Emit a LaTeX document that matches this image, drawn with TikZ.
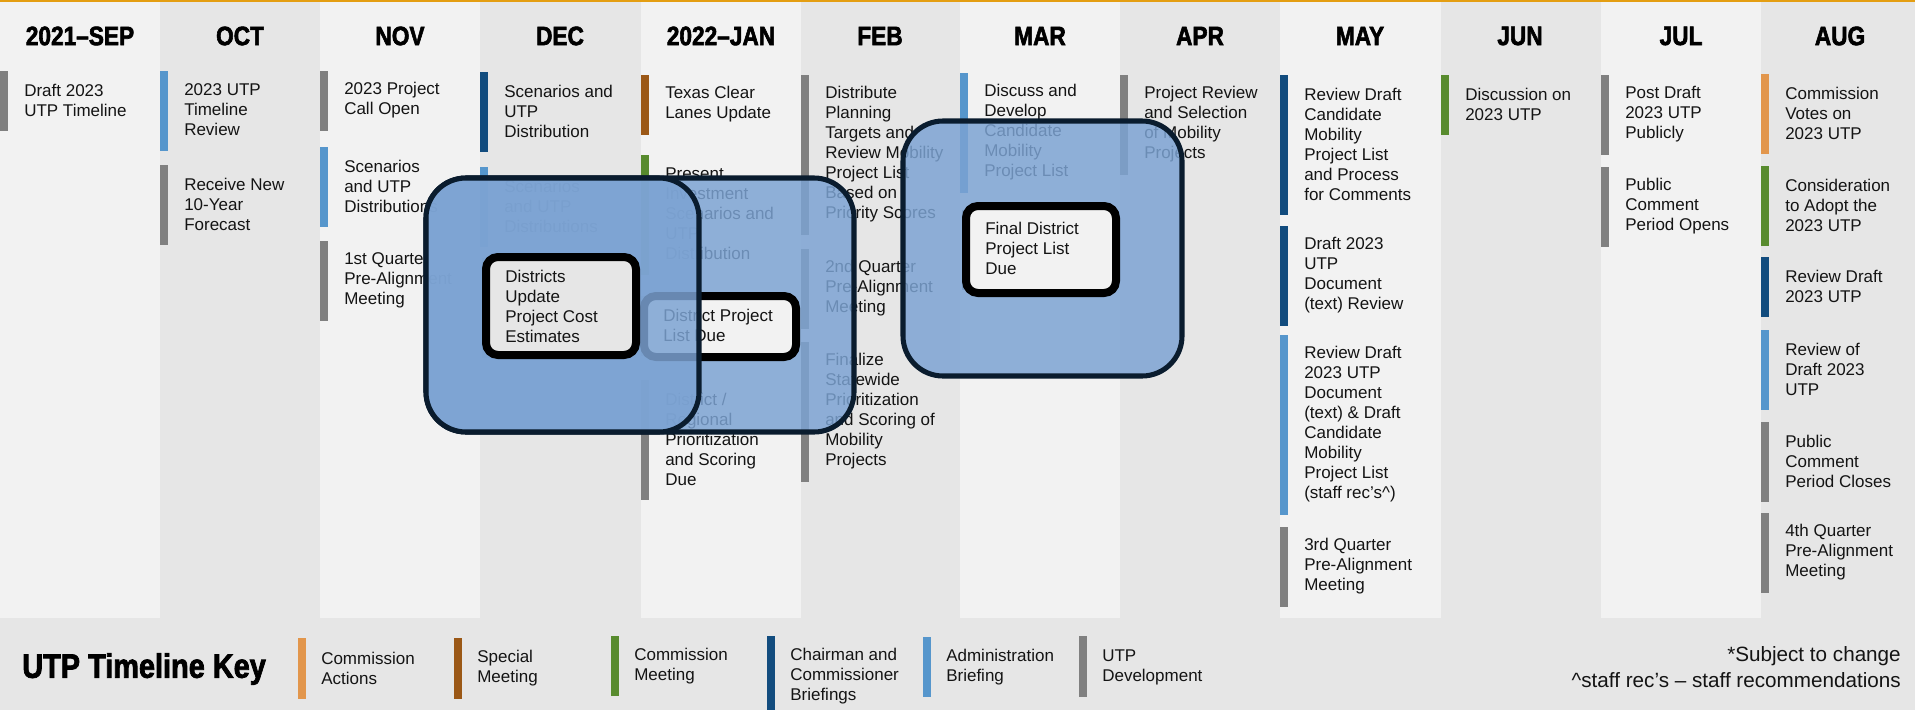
\documentclass[tikz,border=0pt]{standalone}
\usepackage{fontspec}
\setmainfont{Liberation Sans}
\newfontfamily\hdrfont[FakeStretch=0.85,FakeBold=2.2]{Liberation Sans Bold}
\definecolor{colF}{RGB}{242,242,242}
\definecolor{colE}{RGB}{230,230,230}
\definecolor{kgray}{RGB}{128,128,128}
\definecolor{klblue}{RGB}{86,150,204}
\definecolor{kdblue}{RGB}{18,76,126}
\definecolor{kgreen}{RGB}{88,139,46}
\definecolor{kbrown}{RGB}{155,88,22}
\definecolor{korange}{RGB}{226,150,76}
\definecolor{topline}{RGB}{228,158,18}
\definecolor{ovfill}{RGB}{124,163,211}
\definecolor{ovline}{RGB}{10,28,46}
\definecolor{txt}{RGB}{20,20,20}
\tikzset{
  evtext/.style={anchor=west, align=left, inner sep=0pt, text=txt, font=\fontsize{12.75}{15}\selectfont},
  hdr/.style={inner sep=0pt, text=black, font=\hdrfont\fontsize{20}{24}\selectfont},
  ovbox/.style={draw=ovline, line width=3.8pt, fill=ovfill, fill opacity=0.84, rounded corners=30pt},
  hlbox/.style={draw=black, line width=6pt, rounded corners=9pt},
  notetext/.style={anchor=east, inner sep=0pt, text=txt, font=\fontsize{15.5}{18}\selectfont},
}
% name, column x, top y, lines, colour, text
\newcommand{\tlev}[6]{%
  \fill[#5] (#2,#3) rectangle ({#2+8},{#3+20*#4+20});
  \node[evtext] (#1) at ({#2+24},{#3+10*#4+9}) {#6};
}
\newcommand{\tlbar}[4]{%
  \fill[#4] (#1,#2) rectangle ({#1+8},{#2+20*#3+20});
}
\begin{document}
\begin{tikzpicture}[x=0.75pt,y=-0.75pt]
\useasboundingbox (0,0) rectangle (1915,710);
% columns
\foreach \xa/\xb/\c in {0/160/colF,160/320/colE,320/480/colF,480/641/colE,641/801/colF,801/960/colE,960/1120/colF,1120/1280/colE,1280/1441/colF,1441/1601/colE,1601/1761/colF,1761/1915/colE}
  \fill[fill=\c] (\xa,0) rectangle (\xb,618);
\fill[colE] (0,618) rectangle (1915,710);
\fill[topline] (0,0) rectangle (1915,2.4);
% headers
\node[hdr] (hSEP) at (80,36) {2021–SEP};
\node[hdr] (hOCT) at (240,36) {OCT};
\node[hdr] (hNOV) at (400,36) {NOV};
\node[hdr] (hDEC) at (560,36) {DEC};
\node[hdr] (hJAN) at (721,36) {2022–JAN};
\node[hdr] (hFEB) at (880,36) {FEB};
\node[hdr] (hMAR) at (1040,36) {MAR};
\node[hdr] (hAPR) at (1200,36) {APR};
\node[hdr] (hMAY) at (1360,36) {MAY};
\node[hdr] (hJUN) at (1520,36) {JUN};
\node[hdr] (hJUL) at (1681,36) {JUL};
\node[hdr] (hAUG) at (1840,36) {AUG};
% events
\tlev{e1}{0}{71}{2}{kgray}{Draft 2023\\UTP Timeline}
\tlev{e2}{160}{71}{3}{klblue}{2023 UTP\\Timeline\\Review}
\tlev{e3}{160}{165}{3}{kgray}{Receive New\\10-Year\\Forecast}
\tlev{e4}{320}{71}{2}{kgray}{2023 Project\\Call Open}
\tlev{e5}{320}{147}{3}{klblue}{Scenarios\\and UTP\\Distributions}
\tlev{e6}{320}{241}{3}{kgray}{1st Quarter\\Pre-Alignment\\Meeting}
\tlev{e7}{480}{72}{3}{kdblue}{Scenarios and\\UTP\\Distribution}
\tlev{e8}{480}{167}{3}{klblue}{Scenarios\\and UTP\\Distributions}
\tlbar{482}{258}{4}{kgray}
\tlev{e10}{641}{75}{2}{kbrown}{Texas Clear\\Lanes Update}
\tlev{e11}{641}{155}{5}{kgreen}{Present\\Investment\\Scenarios and\\UTP\\Distribution}
\tlbar{641}{296}{2}{kgray}
\tlev{e13}{641}{380}{5}{kgray}{District /\\Regional\\Prioritization\\and Scoring\\Due}
\tlev{e14}{801}{75}{7}{kgray}{Distribute\\Planning\\Targets and\\Review Mobility\\Project List\\Based on\\Priority Scores}
\tlev{e15}{801}{249}{3}{kgray}{2nd Quarter\\Pre-Alignment\\Meeting}
\tlev{e16}{801}{342}{6}{kgray}{Finalize\\Statewide\\Prioritization\\and Scoring of\\Mobility\\Projects}
\tlev{e17}{960}{73}{5}{klblue}{Discuss and\\Develop\\Candidate\\Mobility\\Project List}
\tlbar{962}{210}{3}{kgray}
\tlev{e19}{1120}{75}{4}{kgray}{Project Review\\and Selection\\of Mobility\\Projects}
\tlev{e20}{1280}{75}{6}{kdblue}{Review Draft\\Candidate\\Mobility\\Project List\\and Process\\for Comments}
\tlev{e21}{1280}{226}{4}{kdblue}{Draft 2023\\UTP\\Document\\(text) Review}
\tlev{e22}{1280}{335}{8}{klblue}{Review Draft\\2023 UTP\\Document\\(text) \& Draft\\Candidate\\Mobility\\Project List\\(staff rec’s\textasciicircum)}
\tlev{e23}{1280}{527}{3}{kgray}{3rd Quarter\\Pre-Alignment\\Meeting}
\tlev{e24}{1441}{75}{2}{kgreen}{Discussion on\\2023 UTP}
\tlev{e25}{1601}{75}{3}{kgray}{Post Draft\\2023 UTP\\Publicly}
\tlev{e26}{1601}{167}{3}{kgray}{Public\\Comment\\Period Opens}
\tlev{e27}{1761}{74}{3}{korange}{Commission\\Votes on\\2023 UTP}
\tlev{e28}{1761}{166}{3}{kgreen}{Consideration\\to Adopt the\\2023 UTP}
\tlev{e29}{1761}{257}{2}{kdblue}{Review Draft\\2023 UTP}
\tlev{e30}{1761}{330}{3}{klblue}{Review of\\Draft 2023\\UTP}
\tlev{e31}{1761}{422}{3}{kgray}{Public\\Comment\\Period Closes}
\tlev{e32}{1761}{513}{3}{kgray}{4th Quarter\\Pre-Alignment\\Meeting}
% overlay B (Dec-Feb)
\draw[ovbox] (426,178) rectangle (854,432);
% highlight: District Project List Due
\draw[hlbox, fill=colF] (644,296) rectangle (796,357);
\node[evtext] (e12) at (663,325) {District Project\\List Due};
% overlay A (Nov-Dec)
\draw[ovbox] (426,178) rectangle (699,432);
% highlight: Districts Update Project Cost Estimates
\draw[hlbox, fill=colE] (486,257) rectangle (636,355);
\node[evtext] (e9) at (505,306) {Districts\\Update\\Project Cost\\Estimates};
% overlay C (Mar-Apr)
\draw[ovbox] (903,121) rectangle (1182,376);
% highlight: Final District Project List Due
\draw[hlbox, fill=colF] (966,206) rectangle (1116,293);
\node[evtext] (e18) at (985,248) {Final District\\Project List\\Due};
% key
\node[anchor=west, inner sep=0pt, text=black, font=\hdrfont\fontsize{25.5}{29}\selectfont] (keyt) at (22,669) {UTP Timeline Key};
\fill[korange] (298,638) rectangle (306,699);
\node[evtext] (k1) at (321,668) {Commission\\Actions};
\fill[kbrown] (454,638) rectangle (462,699);
\node[evtext] (k2) at (477,668) {Special\\Meeting};
\fill[kgreen] (611,636) rectangle (619,696);
\node[evtext] (k3) at (634,666) {Commission\\Meeting};
\fill[kdblue] (767,636) rectangle (775,710);
\node[evtext] (k4) at (790,676) {Chairman and\\Commissioner\\Briefings};
\fill[klblue] (923,637) rectangle (931,697);
\node[evtext] (k5) at (946,667) {Administration\\Briefing};
\fill[kgray] (1079,636) rectangle (1087,697);
\node[evtext] (k6) at (1102,667) {UTP\\Development};
\node[notetext] (n1) at (1901,656) {*Subject to change};
\node[notetext] (n2) at (1901,680) {\textasciicircum staff rec’s – staff recommendations};
\end{tikzpicture}
\end{document}
